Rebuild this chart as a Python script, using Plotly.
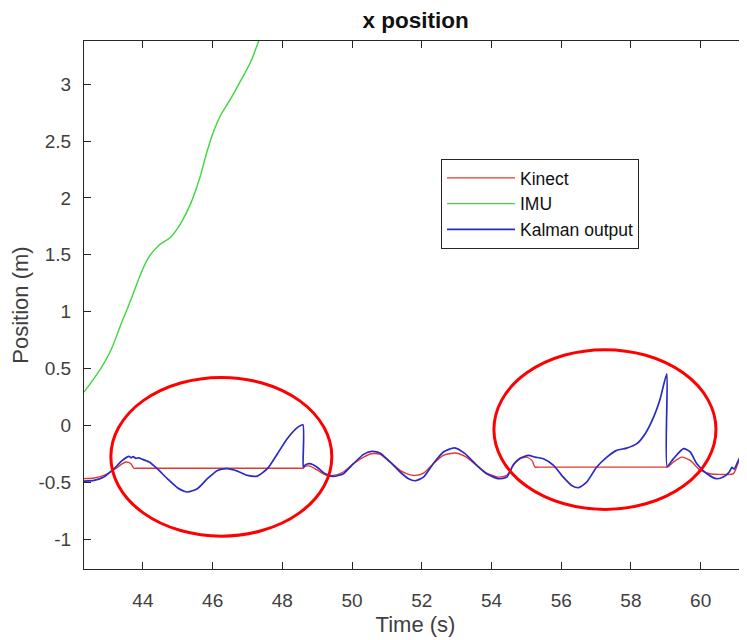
import plotly.graph_objects as go

# ---- data ----
imu_t = [42.31, 42.79, 43.08, 43.36, 43.65, 43.94, 44.17, 44.46, 44.80, 45.08, 45.37, 45.61,
         45.85, 46.04, 46.23, 46.52, 46.81, 47.09, 47.33, 47.60]
imu_x = [0.293, 0.499, 0.66, 0.88, 1.10, 1.334, 1.48, 1.583, 1.656, 1.774, 1.95, 2.155,
         2.419, 2.595, 2.727, 2.873, 3.034, 3.195, 3.386, 3.60]

kinect_t = [42.31, 42.60, 42.88, 43.17, 43.41, 43.51, 43.65, 43.74, 43.84, 46.20, 48.50, 48.60,
            48.64, 48.79, 48.99, 49.23, 49.46, 49.75, 50.04, 50.33, 50.56, 50.80, 51.09, 51.38,
            51.62, 51.81, 52.05, 52.33, 52.62, 52.96, 53.24, 53.58, 53.86, 54.20, 54.44, 54.63,
            54.82, 55.01, 55.16, 55.25, 55.35, 57.20, 58.95, 59.05, 59.22, 59.46, 59.70, 59.99,
            60.27, 60.56, 60.94, 61.13, 61.33]
kinect_x = [-0.468, -0.463, -0.44, -0.39, -0.337, -0.322, -0.335, -0.377, -0.377, -0.377, -0.377, -0.377,
            -0.362, -0.358, -0.39, -0.434, -0.44, -0.41, -0.337, -0.279, -0.249, -0.255, -0.322, -0.396,
            -0.431, -0.44, -0.42, -0.337, -0.264, -0.243, -0.273, -0.352, -0.42, -0.455, -0.44, -0.35,
            -0.293, -0.279, -0.308, -0.367, -0.367, -0.367, -0.367, -0.367, -0.322, -0.279, -0.308, -0.396,
            -0.425, -0.431, -0.425, -0.293, -0.264]

kalman_t = [42.31, 42.60, 42.88, 43.17, 43.41, 43.60, 43.66, 43.72, 43.80, 43.88, 43.94, 44.18,
            44.41, 44.70, 44.99, 45.28, 45.56, 45.85, 46.14, 46.42, 46.71, 47.00, 47.28, 47.57,
            47.86, 48.14, 48.43, 48.59, 48.60, 48.65, 48.79, 48.99, 49.23, 49.46, 49.75, 50.04,
            50.33, 50.56, 50.80, 51.09, 51.38, 51.62, 51.81, 52.05, 52.33, 52.62, 52.94, 53.24,
            53.58, 53.86, 54.20, 54.44, 54.63, 54.82, 55.06, 55.25, 55.49, 55.78, 56.06, 56.30,
            56.50, 56.73, 57.02, 57.31, 57.59, 57.88, 58.17, 58.41, 58.65, 58.84, 59.03, 59.04,
            59.22, 59.51, 59.70, 59.89, 60.18, 60.46, 60.65, 60.82, 60.90, 60.96, 61.13, 61.33]
kalman_x = [-0.49, -0.484, -0.455, -0.381, -0.308, -0.273, -0.285, -0.275, -0.29, -0.285, -0.293, -0.322,
            -0.381, -0.469, -0.548, -0.586, -0.557, -0.469, -0.396, -0.381, -0.402, -0.44, -0.446, -0.381,
            -0.249, -0.117, -0.02, 0.005, -0.37, -0.35, -0.337, -0.366, -0.425, -0.449, -0.425, -0.337,
            -0.255, -0.229, -0.243, -0.322, -0.41, -0.469, -0.487, -0.455, -0.337, -0.234, -0.198, -0.249,
            -0.352, -0.425, -0.469, -0.455, -0.345, -0.29, -0.264, -0.279, -0.293, -0.352, -0.455, -0.528,
            -0.548, -0.499, -0.366, -0.279, -0.22, -0.2, -0.161, -0.073, 0.073, 0.235, 0.454, -0.36,
            -0.293, -0.205, -0.234, -0.337, -0.425, -0.469, -0.455, -0.41, -0.37, -0.385, -0.279, -0.22]

x_ticks = [44, 46, 48, 50, 52, 54, 56, 58, 60]
y_ticks = [-1, -0.5, 0, 0.5, 1, 1.5, 2, 2.5, 3]
y_tick_text = ["-1", "-0.5", "0", "0.5", "1", "1.5", "2", "2.5", "3"]

# highlight ellipses (data coordinates): x0, x1, y0, y1
ellipse_x0 = [43.08, 54.07]
ellipse_x1 = [49.42, 60.44]
ellipse_y0 = [-0.974, -0.739]
ellipse_y1 = [0.422, 0.666]

AX = "#262626"
TXT = "#404040"
FONT = "Liberation Sans, Arial, Helvetica, sans-serif"

# the page body keeps an 8 px margin, so the figure is 8 px smaller each way
W, H = 739, 632

fig = go.Figure()
fig.add_trace(go.Scatter(x=kinect_t, y=kinect_x, mode="lines", name="Kinect",
                         line=dict(color="#e03a32", width=1.4, shape="spline", smoothing=0.6)))
fig.add_trace(go.Scatter(x=imu_t, y=imu_x, mode="lines", name="IMU",
                         line=dict(color="#3cd83c", width=1.4, shape="spline")))
fig.add_trace(go.Scatter(x=kalman_t, y=kalman_x, mode="lines", name="Kalman output",
                         line=dict(color="#2a2ac4", width=1.7, shape="spline", smoothing=0.6)))

for a, b, c, d in zip(ellipse_x0, ellipse_x1, ellipse_y0, ellipse_y1):
    fig.add_shape(type="circle", xref="x", yref="y", x0=a, x1=b, y0=c, y1=d,
                  line=dict(color="#ff0000", width=3))

fig.update_layout(
    width=W, height=H,
    margin=dict(l=76, r=0, t=33, b=71, autoexpand=False),
    paper_bgcolor="white", plot_bgcolor="white",
    font=dict(family=FONT, color=TXT),
    title=dict(text="<b>x position</b>", x=0.5, xref="paper", y=1 - 12 / H, yref="container",
               xanchor="center", yanchor="middle", font=dict(size=22.5, color="#111111")),
    showlegend=True,
    legend=dict(x=(441 - 84) / 663, y=(569 - 159) / 528, xanchor="left", yanchor="top",
                bgcolor="white", bordercolor=AX, borderwidth=1,
                font=dict(size=17.5, color="#111111"), itemwidth=68),
    xaxis=dict(range=[42.31, 61.33], tickvals=x_ticks, ticks="inside", ticklen=7,
               tickcolor=AX, showline=True, linecolor=AX, linewidth=1, mirror="ticks",
               showgrid=False, zeroline=False, tickfont=dict(size=19, color=TXT),
               ticklabelstandoff=14, automargin=False,
               title=dict(text="Time (s)", font=dict(size=22, color=TXT), standoff=6)),
    yaxis=dict(range=[-1.263, 3.38], tickvals=y_ticks, ticktext=y_tick_text, ticks="inside",
               ticklen=7, tickcolor=AX, showline=True, linecolor=AX, linewidth=1, mirror="ticks",
               showgrid=False, zeroline=False, tickfont=dict(size=19, color=TXT),
               ticklabelstandoff=8, automargin=False,
               title=dict(text="Position (m)", font=dict(size=22, color=TXT), standoff=4)),
)

fig.write_html("out.html")
